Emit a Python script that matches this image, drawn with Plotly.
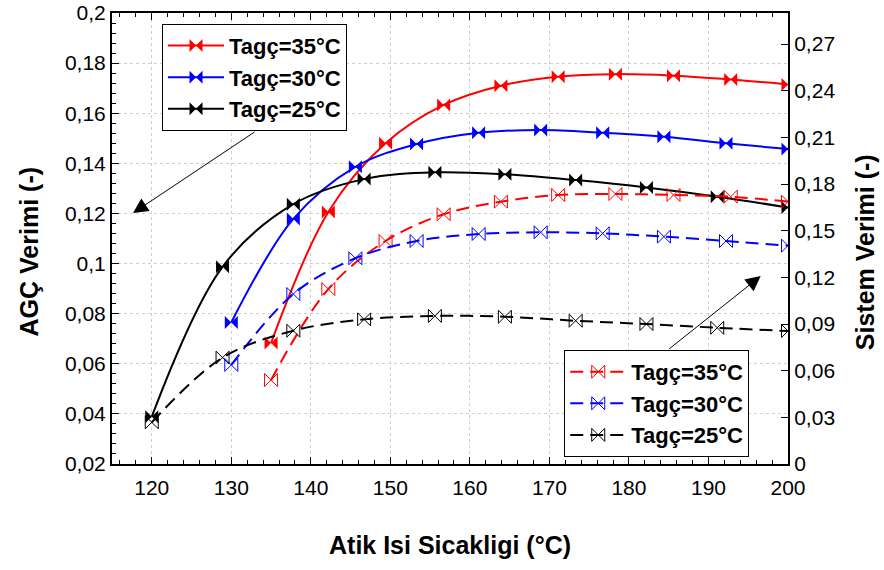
import plotly.graph_objects as go

# Atik isi sicakligi (°C) for each Tagç series
x_35 = [135, 142.2, 149.4, 156.7, 163.9, 171.1, 178.3, 185.6, 192.8, 200]
x_30 = [130, 137.8, 145.6, 153.3, 161.1, 168.9, 176.7, 184.4, 192.2, 200]
x_25 = [120, 128.9, 137.8, 146.7, 155.6, 164.4, 173.3, 182.2, 191.1, 200]

# AGÇ verimi (left axis, solid lines)
agc_35 = [0.0683, 0.1206, 0.148, 0.1633, 0.171, 0.1746, 0.1756, 0.175, 0.1735, 0.1715]
agc_30 = [0.0765, 0.1178, 0.1386, 0.1477, 0.1522, 0.1533, 0.1522, 0.1506, 0.148, 0.1457]
agc_25 = [0.0389, 0.0987, 0.1237, 0.1337, 0.1364, 0.1356, 0.1333, 0.1304, 0.1267, 0.1224]

# Sistem verimi (right axis, dashed lines)
sis_35 = [0.054, 0.1125, 0.1434, 0.1606, 0.1687, 0.173, 0.1736, 0.173, 0.1719, 0.1687]
sis_30 = [0.0637, 0.1093, 0.1323, 0.1434, 0.1479, 0.149, 0.1483, 0.1462, 0.1434, 0.1404]
sis_25 = [0.0268, 0.0684, 0.0857, 0.093, 0.0952, 0.0947, 0.0921, 0.09, 0.0876, 0.0855]

labels = ['Tagç=35°C', 'Tagç=30°C', 'Tagç=25°C']
colors = ['#ff0000', '#0000ff', '#000000']

FONT = 'Arial, Liberation Sans, sans-serif'

fig = go.Figure()

solid = [(x_35, agc_35), (x_30, agc_30), (x_25, agc_25)]
dashed = [(x_35, sis_35), (x_30, sis_30), (x_25, sis_25)]

for i, (xs, ys) in enumerate(solid):
    fig.add_trace(go.Scatter(
        x=xs, y=ys, name=labels[i], mode='lines+markers',
        line=dict(color=colors[i], width=2, shape='spline'),
        marker=dict(symbol='bowtie', size=13, color=colors[i]),
        legend='legend', yaxis='y'
    ))

for i, (xs, ys) in enumerate(dashed):
    fig.add_trace(go.Scatter(
        x=xs, y=ys, name=labels[i], mode='lines+markers',
        line=dict(color=colors[i], width=2, shape='spline', dash='13px,7px'),
        marker=dict(symbol='bowtie-open', size=13, color=colors[i],
                    line=dict(width=1, color=colors[i])),
        legend='legend2', yaxis='y2'
    ))

legend_style = dict(
    font=dict(family=FONT, size=22, color='black', weight='bold'),
    bgcolor='white', bordercolor='black', borderwidth=1,
    xanchor='left', yanchor='top', itemwidth=56, traceorder='normal',
)

tick_font = dict(family=FONT, size=21, color='black')

fig.update_layout(
    width=884, height=570,
    margin=dict(l=112, r=96, t=13, b=106),
    plot_bgcolor='white', paper_bgcolor='white',
    separators=',.',
    showlegend=True,
    legend=dict(x=0.074, y=0.976, **legend_style),
    legend2=dict(x=0.669, y=0.253, **legend_style),
    xaxis=dict(
        range=[115, 200], dtick=10, tick0=120, automargin=False,
        showline=True, linecolor='black', linewidth=2, mirror='ticks',
        ticks='inside', ticklen=7, tickcolor='black', ticklabelstandoff=4,
        minor=dict(dtick=2, ticks='inside', ticklen=4, tickcolor='black', showgrid=False),
        showgrid=True, gridcolor='#cfcfcf', griddash='dot', gridwidth=1,
        zeroline=False, tickfont=tick_font,
    ),
    yaxis=dict(
        range=[0.02, 0.2], dtick=0.02, tick0=0.02, automargin=False,
        showline=True, linecolor='black', linewidth=2,
        ticks='inside', ticklen=7, tickcolor='black',
        minor=dict(dtick=0.004, ticks='inside', ticklen=4, tickcolor='black', showgrid=False),
        showgrid=True, gridcolor='#cfcfcf', griddash='dot', gridwidth=1,
        zeroline=False, tickfont=tick_font,
    ),
    yaxis2=dict(
        range=[0, 0.29], dtick=0.03, tick0=0, automargin=False,
        overlaying='y', side='right',
        showline=True, linecolor='black', linewidth=2,
        ticks='inside', ticklen=7, tickcolor='black',
        showgrid=False, zeroline=False, tickfont=tick_font,
    ),
)

title_font = dict(family=FONT, size=25, color='black', weight='bold')
fig.add_annotation(text='AGÇ Verimi (-)', xref='paper', yref='paper',
                   x=-0.123, y=0.471, textangle=-90, showarrow=False,
                   xanchor='center', yanchor='middle', font=title_font)
fig.add_annotation(text='Sistem Verimi (-)', xref='paper', yref='paper',
                   x=1.115, y=0.469, textangle=-90, showarrow=False,
                   xanchor='center', yanchor='middle', font=title_font)
fig.add_annotation(text='Atik Isi Sicakligi (°C)', xref='paper', yref='paper',
                   x=0.5, y=-0.18, showarrow=False,
                   xanchor='center', yanchor='middle', font=title_font)

# pointer arrows from the legend boxes
fig.add_annotation(xref='paper', yref='paper', x=0.0311, y=0.5565,
                   ax=123, ay=-82, text='', showarrow=True, arrowhead=2,
                   arrowsize=3, arrowwidth=1, arrowcolor='black')
fig.add_annotation(xref='paper', yref='paper', x=0.9596, y=0.4167,
                   ax=-93, ay=74, text='', showarrow=True, arrowhead=2,
                   arrowsize=3, arrowwidth=1, arrowcolor='black')

fig.write_html("out.html", config={'displayModeBar': False},
               post_script="document.body.style.margin='0';")
